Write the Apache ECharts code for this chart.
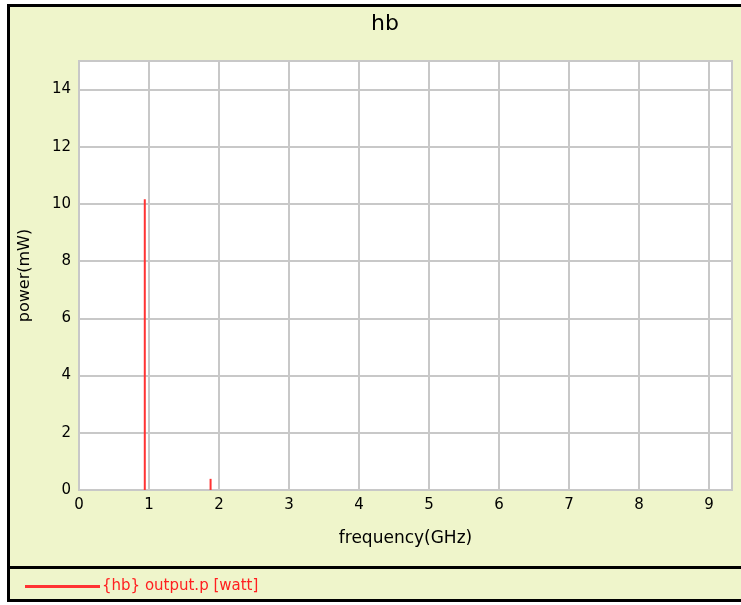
<!DOCTYPE html>
<html><head><meta charset="utf-8">
<script src="https://cdn.jsdelivr.net/npm/echarts@6/dist/echarts.min.js"></script>
<style>html,body{margin:0;padding:0;background:#fff}#c{width:741px;height:605px}</style>
</head><body><div id="c"></div>
<script>
const titleText = 'hb';
const seriesName = '{hb} output.p [watt]';
const frequencies = [0.94, 1.88];
const powers = [10.17, 0.39];
const xName = 'frequency(GHz)';
const yName = 'power(mW)';

const chart = echarts.init(document.getElementById('c'), null, {renderer: 'canvas'});
const font = 'DejaVu Sans';
const bg = '#EFF5CB';
chart.setOption({
  backgroundColor: '#ffffff',
  animation: false,
  title: {text: titleText, left: 380, top: 8, textAlign: 'center',
    textStyle: {fontFamily: font, fontSize: 22, fontWeight: 'normal', color: '#000'}},
  graphic: [
    {type: 'rect', z: -10, shape: {x: 8.5, y: 5.5, width: 740, height: 562}, style: {fill: bg, stroke: '#000', lineWidth: 3}},
    {type: 'rect', z: -10, shape: {x: 8.5, y: 567.5, width: 740, height: 33}, style: {fill: bg, stroke: '#000', lineWidth: 3}}
  ],
  legend: {left: 25, top: 577, padding: [2, 0, 0, 0], itemWidth: 75, itemHeight: 3, icon: 'rect',
    textStyle: {fontFamily: font, fontSize: 15, color: '#ff2020', padding: [0, 0, 0, -3]},
    data: [seriesName]},
  grid: {left: 79, right: 9, top: 61, bottom: 115, show: true, backgroundColor: '#fff', borderColor: '#c8c8c8', borderWidth: 2},
  xAxis: {type: 'value', min: 0, max: 9.33, interval: 1,
    name: xName, nameLocation: 'middle', nameGap: 40,
    nameTextStyle: {fontFamily: font, fontSize: 17, color: '#000'},
    axisLine: {show: false}, axisTick: {show: false},
    axisLabel: {showMaxLabel: false, fontFamily: font, fontSize: 15, color: '#000', margin: 8},
    splitLine: {lineStyle: {color: '#c8c8c8', width: 2}}},
  yAxis: {type: 'value', min: 0, max: 15, interval: 2,
    name: yName, nameLocation: 'middle', nameGap: 46,
    nameTextStyle: {fontFamily: font, fontSize: 16, color: '#000'},
    axisLine: {show: false}, axisTick: {show: false},
    axisLabel: {showMaxLabel: false, fontFamily: font, fontSize: 15, color: '#000', margin: 8},
    splitLine: {lineStyle: {color: '#c8c8c8', width: 2}}},
  series: [{
    name: seriesName, type: 'bar', barWidth: 2,
    itemStyle: {color: '#ff3333'},
    data: frequencies.map((f, i) => [f, powers[i]])
  }]
});
</script></body></html>
